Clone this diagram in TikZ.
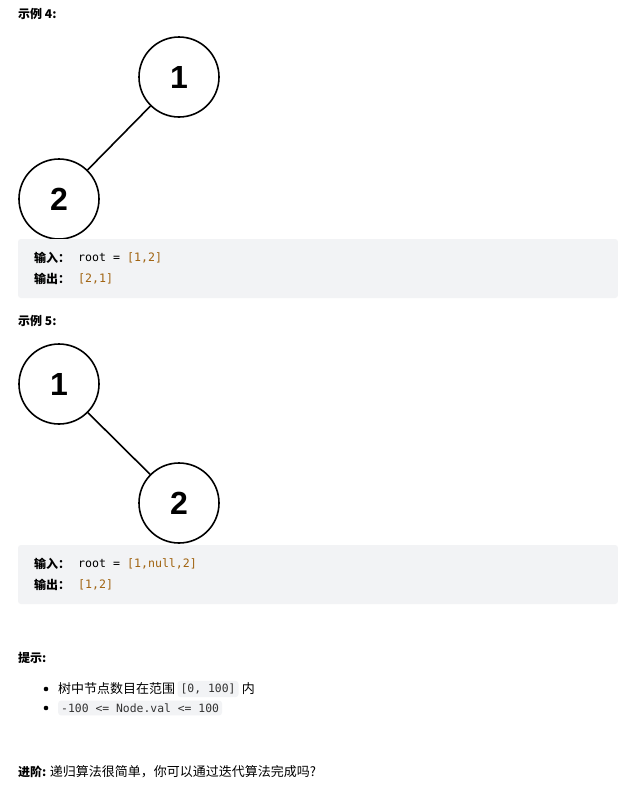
\documentclass[tikz,border=0pt]{standalone}
\usepackage{fontspec}
\setmainfont{Noto Sans CJK SC}
\setmonofont{DejaVu Sans Mono}
\newfontfamily\numf{Liberation Sans}
\definecolor{codebg}{HTML}{F2F3F5}
\definecolor{codeor}{HTML}{A0620F}
\definecolor{inlinebg}{HTML}{F2F3F5}
\begin{document}
\begin{tikzpicture}[x=1pt,y=-1pt,
  tn/.style={circle,draw,line width=1.6pt,minimum size=80pt,inner sep=0pt,font=\numf\bfseries\fontsize{32}{32}\selectfont},
  txt/.style={anchor=west,inner sep=0pt,font=\fontsize{13}{15}\selectfont},
  hd/.style={anchor=west,inner sep=0pt,font=\bfseries\fontsize{12}{14}\selectfont},
  code/.style={anchor=west,inner sep=0pt,font=\ttfamily\fontsize{11.6}{13}\selectfont},
  cb/.style={fill=codebg,draw=none,rounded corners=3pt},
  ic/.style={fill=inlinebg,rounded corners=3pt,inner xsep=3pt,inner ysep=3pt,font=\ttfamily\fontsize{11.4}{13}\selectfont,text=black!80}]
\useasboundingbox[fill=white] (0,0) rectangle (618,788);
\node[hd] (h4) at (18,14) {示例 4:};
\node[tn] (a1) at (179,77) {1};
\node[tn] (a2) at (59,199) {2};
\draw[line width=1.6pt] (a1) -- (a2);
\fill[cb] (18,239) rectangle (618,298);
\node[hd] (i4) at (34,258) {输入：};
\node[code,anchor=west] (c4a) at (78,258) {root = \textcolor{codeor}{[1,2]}};
\node[hd] (o4) at (34,279) {输出：};
\node[code] (c4b) at (78,279) {\textcolor{codeor}{[2,1]}};
\node[hd] (h5) at (18,321) {示例 5:};
\node[tn] (b1) at (59,384) {1};
\node[tn] (b2) at (179,503) {2};
\draw[line width=1.6pt] (b1) -- (b2);
\fill[cb] (18,545) rectangle (618,604);
\node[hd] (i5) at (34,564) {输入：};
\node[code] (c5a) at (78,564) {root = \textcolor{codeor}{[1,null,2]}};
\node[hd] (o5) at (34,585) {输出：};
\node[code] (c5b) at (78,585) {\textcolor{codeor}{[1,2]}};
\node[hd] (tip) at (18,658) {提示:};
\fill (46,689) circle (2.3);
\fill (46,708) circle (2.3);
\node[txt] (t1) at (58,689) {树中节点数目在范围};
\node[ic,anchor=west] (t1c) at ([xshift=2pt]t1.east) {[0, 100]};
\node[txt,anchor=west] (t1d) at ([xshift=3pt]t1c.east) {内};
\node[ic,anchor=west] (t2) at (58,708) {-100 <= Node.val <= 100};
\node[hd] (adv) at (18,772) {进阶:};
\node[txt,anchor=west] (advt) at ([xshift=3pt]adv.east) {递归算法很简单，你可以通过迭代算法完成吗?};
\end{tikzpicture}
\end{document}
